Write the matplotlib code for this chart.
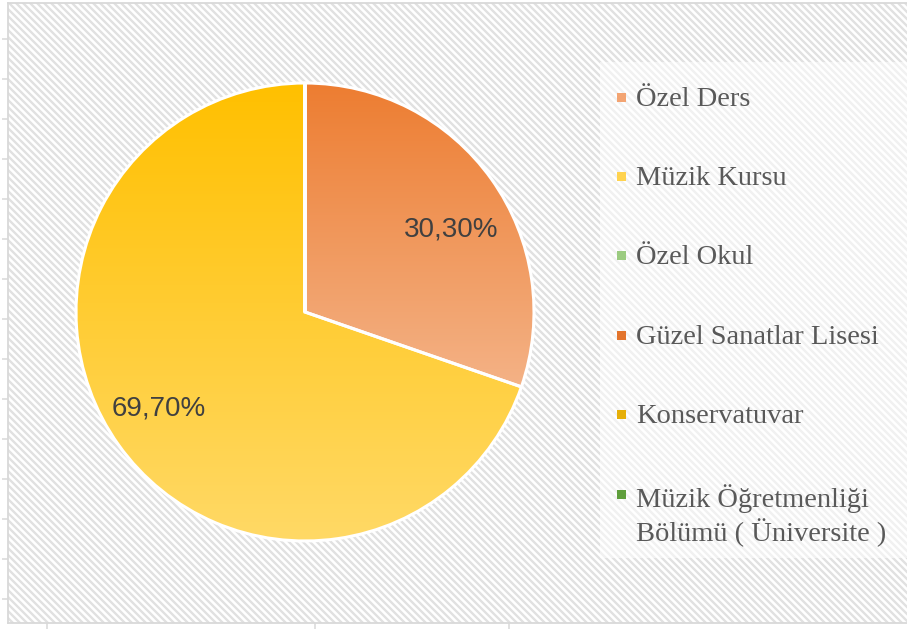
import numpy as np
import matplotlib
matplotlib.use("Agg")
import matplotlib.pyplot as plt
from matplotlib.collections import LineCollection
from matplotlib.colors import LinearSegmentedColormap
from matplotlib.patches import Rectangle

# shares by education type (percent)
categories = [
    "Özel Ders",
    "Müzik Kursu",
    "Özel Okul",
    "Güzel Sanatlar Lisesi",
    "Konservatuvar",
    "Müzik Öğretmenliği\nBölümü ( Üniversite )",
]
shares = [30.30, 69.70, 0.0, 0.0, 0.0, 0.0]

# flat legend swatches and (top, bottom) gradient stops for the slices
swatch_colors = ["#F3A472", "#FFD34F", "#9BCB80", "#E3742C", "#E6AF08", "#5F9E3C"]
gradients = [
    ("#ED7D31", "#F4B286"),
    ("#FFC000", "#FFD966"),
    ("#A9D18E", "#C5E0B4"),
    ("#C55A11", "#ED7D31"),
    ("#BF9000", "#FFC000"),
    ("#548235", "#70AD47"),
]

W, H = 907, 630
fig = plt.figure(figsize=(W / 100, H / 100), dpi=100)

# background panel in pixel units (y pointing down)
bg = fig.add_axes([8 / W, 7 / H, (W - 8) / W, 620 / H])
bg.set_xlim(8, W)
bg.set_ylim(623, 3)
for side in ("left", "bottom", "top"):
    bg.spines[side].set_color("#D9D9D9")
    bg.spines[side].set_linewidth(1.3)
bg.spines["right"].set_visible(False)
bg.set_yticks(np.arange(39, 620, 40))
bg.set_xticks([47, 315, 509])
bg.tick_params(length=4.5, width=1.1, color="#D9D9D9",
               labelleft=False, labelbottom=False)

# diagonal stripe texture
step = 7
segs = [[(c, -20), (c + 700, 680)] for c in range(-700, W + 20, step)]
bg.add_collection(LineCollection(segs, colors="#E1E1E1", linewidths=1.7, zorder=0))

# lighter box behind the legend
bg.add_patch(Rectangle((600, 62), W - 600, 496, facecolor="white",
                       edgecolor="none", alpha=0.55, zorder=1))

# pie panel: centre (305, 312) px, radius 229 px
cx, cy, r_px, half = 305, H - 312, 229, 240
ax = fig.add_axes([(cx - half) / W, (cy - half) / H, 2 * half / W, 2 * half / H])
wedges, _ = ax.pie(shares, startangle=90, counterclock=False, colors=swatch_colors,
                   wedgeprops=dict(edgecolor="white", linewidth=2.2))

for w, val, (c_top, c_bot) in zip(wedges, shares, gradients):
    if val <= 0:
        continue
    ext = w.get_path().get_extents()
    cmap = LinearSegmentedColormap.from_list("g", [c_top, c_bot])
    grad = np.linspace(0, 1, 256).reshape(-1, 1)
    im = ax.imshow(grad, cmap=cmap, origin="upper", aspect="auto", zorder=0,
                   extent=(ext.x0, ext.x1, ext.y0, ext.y1))
    im.set_clip_path(w)
    w.set_facecolor("none")

    # label inside the slice, nudged a little clockwise from the middle
    mid = np.deg2rad((w.theta1 + w.theta2) / 2 - 4)
    ax.text(0.75 * np.cos(mid), 0.75 * np.sin(mid) - 0.03,
            f"{val:.2f}%".replace(".", ","), ha="center", va="center",
            fontsize=20, color="#404040", family="Liberation Sans")

lim = half / r_px
ax.set_xlim(-lim, lim)
ax.set_ylim(-lim, lim)
ax.set_aspect("auto")
ax.axis("off")

# legend
rows = [97, 176, 255, 335, 414, 494]
for name, col, y in zip(categories, swatch_colors, rows):
    bg.add_patch(Rectangle((617, y - 4.5), 9, 9, facecolor=col,
                           edgecolor="none", zorder=3))
    bg.text(636, y - 10, name, ha="left", va="top", fontsize=20.5,
            color="#595959", family="Liberation Serif", linespacing=1.25, zorder=3)

fig.savefig("out.png", dpi=100)
